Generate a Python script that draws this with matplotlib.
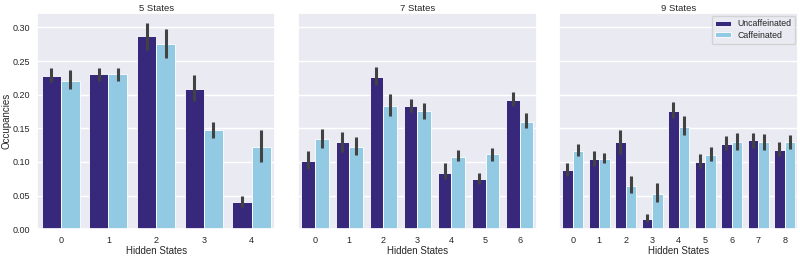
import numpy as np
import matplotlib
matplotlib.use("Agg")
import matplotlib.pyplot as plt
import seaborn as sns

sns.set_theme(style="darkgrid")
plt.rcParams['font.family'] = ['Liberation Sans', 'DejaVu Sans']

titles = ["5 States", "7 States", "9 States"]

# Uncaffeinated: mean, lower CI, upper CI
unc_5 = [0.228, 0.230, 0.287, 0.209, 0.041]
unc_5_lo = [0.219, 0.220, 0.267, 0.190, 0.033]
unc_5_hi = [0.240, 0.240, 0.307, 0.229, 0.050]
caf_5 = [0.221, 0.230, 0.276, 0.147, 0.122]
caf_5_lo = [0.208, 0.221, 0.255, 0.136, 0.100]
caf_5_hi = [0.237, 0.240, 0.298, 0.160, 0.148]

unc_7 = [0.102, 0.129, 0.227, 0.183, 0.084, 0.075, 0.192]
unc_7_lo = [0.090, 0.115, 0.215, 0.174, 0.074, 0.067, 0.183]
unc_7_hi = [0.116, 0.145, 0.241, 0.194, 0.098, 0.084, 0.204]
caf_7 = [0.134, 0.122, 0.183, 0.175, 0.108, 0.111, 0.160]
caf_7_lo = [0.120, 0.110, 0.168, 0.164, 0.101, 0.102, 0.150]
caf_7_hi = [0.149, 0.137, 0.201, 0.187, 0.117, 0.121, 0.173]

unc_9 = [0.088, 0.105, 0.129, 0.015, 0.176, 0.100, 0.126, 0.132, 0.118]
unc_9_lo = [0.079, 0.094, 0.112, 0.010, 0.165, 0.091, 0.118, 0.121, 0.109]
unc_9_hi = [0.099, 0.116, 0.148, 0.022, 0.189, 0.111, 0.139, 0.143, 0.129]
caf_9 = [0.116, 0.104, 0.064, 0.052, 0.152, 0.110, 0.130, 0.129, 0.129]
caf_9_lo = [0.109, 0.098, 0.053, 0.041, 0.140, 0.101, 0.117, 0.118, 0.119]
caf_9_hi = [0.126, 0.113, 0.079, 0.068, 0.168, 0.122, 0.143, 0.141, 0.140]

panels = [
    (unc_5, unc_5_lo, unc_5_hi, caf_5, caf_5_lo, caf_5_hi),
    (unc_7, unc_7_lo, unc_7_hi, caf_7, caf_7_lo, caf_7_hi),
    (unc_9, unc_9_lo, unc_9_hi, caf_9, caf_9_lo, caf_9_hi),
]

c_unc = "#38287c"
c_caf = "#93cae3"
err_c = "#424242"

fig, axes = plt.subplots(1, 3, figsize=(8, 2.56), dpi=100, sharey=True)
fig.subplots_adjust(left=0.046, right=0.9975, bottom=0.105, top=0.948, wspace=0.095)

w = 0.4
for ax, title, (u, ulo, uhi, c, clo, chi) in zip(axes, titles, panels):
    n = len(u)
    x = np.arange(n)
    u = np.array(u); c = np.array(c)
    ax.bar(x - w / 2, u, width=w, color=c_unc, edgecolor="white", linewidth=0.6, label="Uncaffeinated", zorder=2)
    ax.bar(x + w / 2, c, width=w, color=c_caf, edgecolor="white", linewidth=0.6, label="Caffeinated", zorder=2)
    ax.vlines(x - w / 2, ulo, uhi, color=err_c, linewidth=2.2, zorder=3)
    ax.vlines(x + w / 2, clo, chi, color=err_c, linewidth=2.2, zorder=3)
    ax.set_xticks(x)
    ax.set_xticklabels([str(i) for i in range(n)])
    ax.set_xlim(-0.5, n - 0.5)
    ax.set_title(title, fontsize=6.8, pad=2)
    ax.set_xlabel("Hidden States", fontsize=7, labelpad=1)
    ax.tick_params(labelsize=6.5, length=0)
    ax.tick_params(axis="x", pad=5)
    ax.tick_params(axis="y", pad=4.5)
    ax.grid(axis="x", visible=False)

axes[0].set_ylim(0, 0.321)
axes[0].set_yticks([0.0, 0.05, 0.10, 0.15, 0.20, 0.25, 0.30])
axes[0].set_yticklabels(["0.00", "0.05", "0.10", "0.15", "0.20", "0.25", "0.30"])
axes[0].set_ylabel("Occupancies", fontsize=7, labelpad=1.2)
axes[2].legend(loc="upper right", fontsize=6.3, frameon=True, handlelength=1.8,
               handleheight=0.5, labelspacing=0.3, borderpad=0.4, borderaxespad=0.3)

fig.savefig("out.png", dpi=100)
